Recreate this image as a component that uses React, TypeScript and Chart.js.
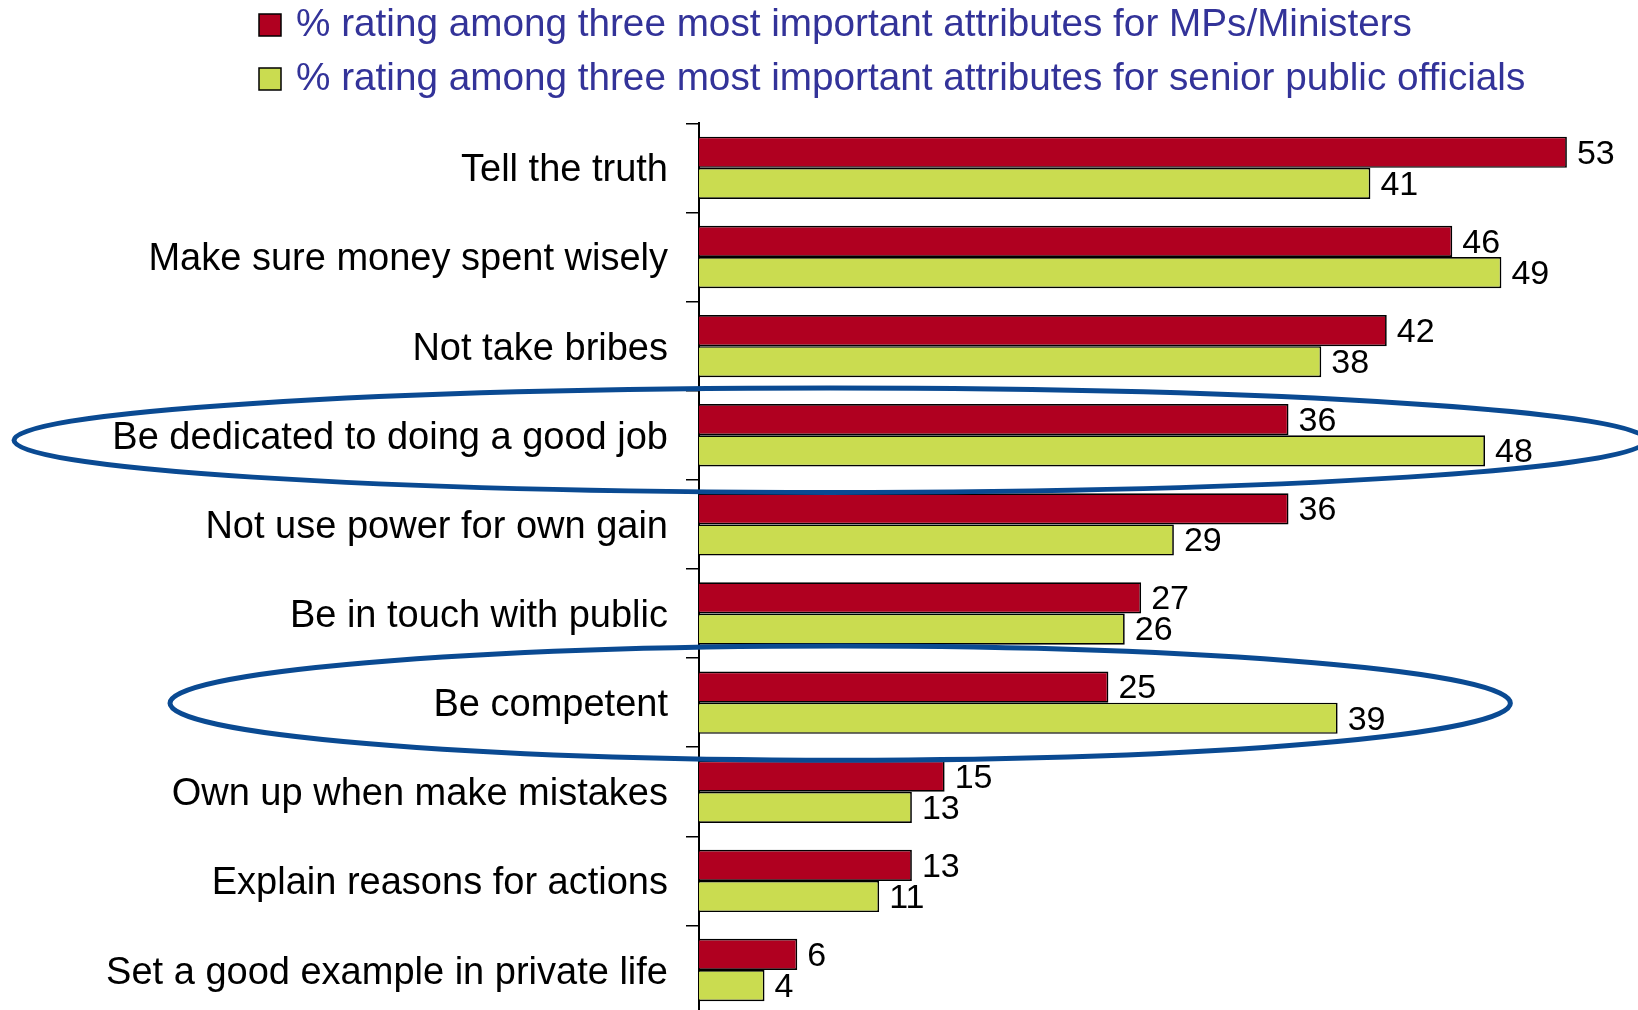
import React, { useEffect, useRef } from "react";
import { Chart, registerables } from "chart.js";

Chart.register(...registerables);

const categories = [
  "Tell the truth",
  "Make sure money spent wisely",
  "Not take bribes",
  "Be dedicated to doing a good job",
  "Not use power for own gain",
  "Be in touch with public",
  "Be competent",
  "Own up when make mistakes",
  "Explain reasons for actions",
  "Set a good example in private life",
];
const mpsValues = [53, 46, 42, 36, 36, 27, 25, 15, 13, 6];
const officialsValues = [41, 49, 38, 48, 29, 26, 39, 13, 11, 4];
const seriesLabels = [
  "% rating among three most important attributes for MPs/Ministers",
  "% rating among three most important attributes for senior public officials",
];
// highlighted categories (index), circled in the original
const highlighted = [3, 6];

const RED = "#B00020";
const GREEN = "#CADC50";
const LEGEND_TEXT = "#333399";
const ELLIPSE = "#0A4A92";
const FONT = "'Liberation Sans', Arial, sans-serif";

const W = 1638;
const H = 1015;

export default function App() {
  const ref = useRef<HTMLCanvasElement | null>(null);

  useEffect(() => {
    if (!ref.current) return;

    const legendPlugin = {
      id: "customLegend",
      afterDraw(chart: any) {
        const ctx = chart.ctx;
        ctx.save();
        const rows = [25, 79];
        const colors = [RED, GREEN];
        seriesLabels.forEach((t, i) => {
          const cy = rows[i];
          ctx.fillStyle = colors[i];
          ctx.fillRect(259, cy - 11, 22, 22);
          ctx.strokeStyle = "#000";
          ctx.lineWidth = 1.5;
          ctx.strokeRect(259, cy - 11, 22, 22);
          ctx.fillStyle = LEGEND_TEXT;
          ctx.font = `38.7px ${FONT}`;
          ctx.textBaseline = "middle";
          ctx.textAlign = "left";
          ctx.fillText(t, 296, cy);
        });
        ctx.restore();
      },
    };

    const valueLabelPlugin = {
      id: "valueLabels",
      afterDatasetsDraw(chart: any) {
        const ctx = chart.ctx;
        ctx.save();
        ctx.font = `34px ${FONT}`;
        ctx.fillStyle = "#000";
        ctx.textBaseline = "middle";
        ctx.textAlign = "left";
        chart.data.datasets.forEach((ds: any, di: number) => {
          const meta = chart.getDatasetMeta(di);
          meta.data.forEach((el: any, i: number) => {
            ctx.fillText(String(ds.data[i]), el.x + 10, el.y + 2);
          });
        });
        ctx.restore();
      },
    };

    const ellipsePlugin = {
      id: "ellipses",
      afterDraw(chart: any) {
        const ctx = chart.ctx;
        const y = chart.scales.y;
        const x = chart.scales.x;
        const band = y.getPixelForValue(1) - y.getPixelForValue(0);
        const specs = [
          { idx: highlighted[0], left: 14, rightVal: 57.85, dy: 5, ry: 0.585 },
          { idx: highlighted[1], left: 170, rightVal: 49.55, dy: 0.5, ry: 0.64 },
        ];
        ctx.save();
        ctx.strokeStyle = ELLIPSE;
        ctx.lineWidth = 5;
        specs.forEach((s) => {
          const right = x.getPixelForValue(s.rightVal);
          const cx = (s.left + right) / 2;
          const rx = (right - s.left) / 2;
          const cy = y.getPixelForValue(s.idx) + s.dy;
          ctx.beginPath();
          ctx.ellipse(cx, cy, rx, band * s.ry, 0, 0, Math.PI * 2);
          ctx.stroke();
        });
        ctx.restore();
      },
    };

    const chart = new Chart(ref.current, {
      type: "bar",
      data: {
        labels: categories,
        datasets: [
          {
            label: seriesLabels[0],
            data: mpsValues,
            backgroundColor: RED,
            borderColor: "#000",
            borderWidth: 1.7,
            categoryPercentage: 0.7,
            barPercentage: 1,
          },
          {
            label: seriesLabels[1],
            data: officialsValues,
            backgroundColor: GREEN,
            borderColor: "#000",
            borderWidth: 1.7,
            categoryPercentage: 0.7,
            barPercentage: 1,
          },
        ],
      },
      options: {
        indexAxis: "y",
        animation: false,
        responsive: false,
        devicePixelRatio: 1,
        layout: { padding: { top: 123.3, right: 22, bottom: 0.4, left: 0 } },
        plugins: {
          legend: { display: false },
          tooltip: { enabled: false },
          title: { display: false },
        },
        scales: {
          x: {
            display: false,
            min: 0,
            max: 56,
          },
          y: {
            position: "left",
            afterFit(scale: any) {
              scale.width = 699;
              scale.paddingTop = 0;
              scale.paddingBottom = 0;
            },
            ticks: {
              color: "#000",
              font: { family: FONT, size: 38 },
              padding: 18,
              labelOffset: 3,
              autoSkip: false,
            },
            grid: {
              drawOnChartArea: false,
              drawTicks: true,
              tickLength: 13,
              color: "#000",
              lineWidth: 1.5,
              offset: true,
            },
            border: { display: true, color: "#000", width: 2 },
          },
        },
      },
      plugins: [valueLabelPlugin, legendPlugin, ellipsePlugin],
    } as any);

    return () => chart.destroy();
  }, []);

  return (
    <div
      style={{
        position: "absolute",
        left: 0,
        top: 0,
        width: W,
        height: 1010,
        overflow: "hidden",
        background: "#fff",
      }}
    >
      <canvas ref={ref} width={W} height={H} style={{ display: "block" }} />
    </div>
  );
}
